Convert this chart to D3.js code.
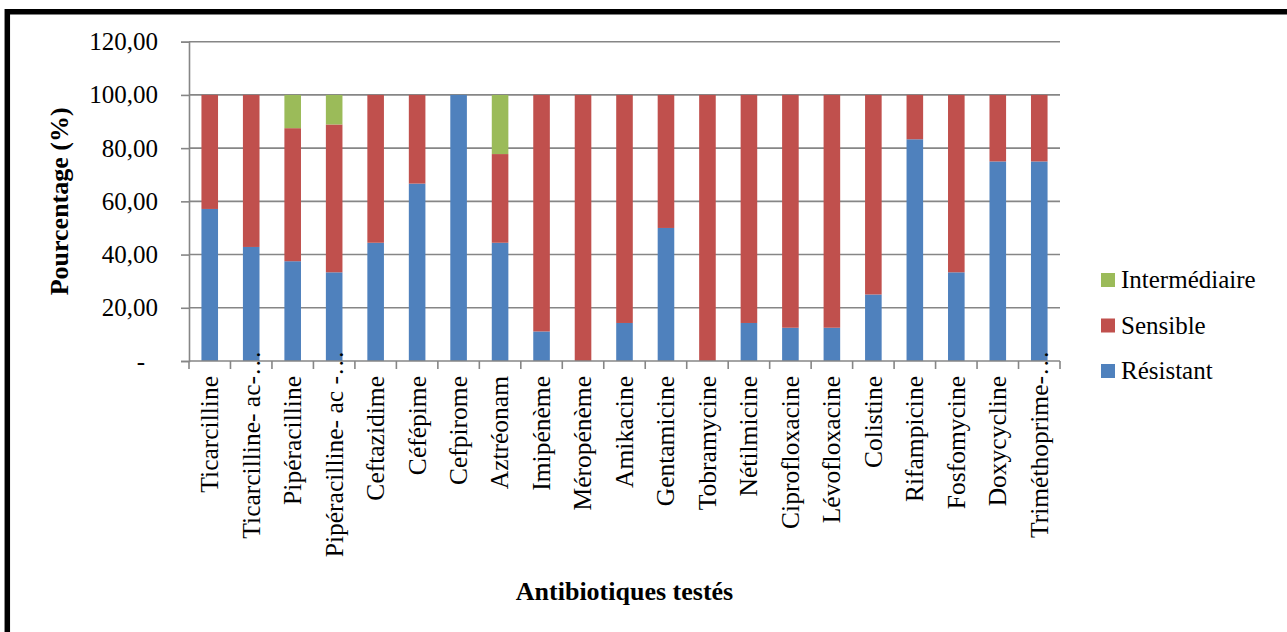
<!DOCTYPE html>
<html>
<head>
<meta charset="utf-8">
<script src="https://cdn.jsdelivr.net/npm/d3@7"></script>
<style>
  body { margin: 0; background: #fff; }
  svg text { font-family: "Liberation Serif", "Times New Roman", serif; fill: #000; }
</style>
</head>
<body>
<svg id="chart" width="1287" height="632"></svg>
<script>
// Data
const categories = ["Ticarcilline", "Ticarcilline- ac-", "Pipéracilline", "Pipéracilline- ac -",
  "Ceftazidime", "Céfépime", "Cefpirome", "Aztréonam", "Imipénème", "Méropénème", "Amikacine",
  "Gentamicine", "Tobramycine", "Nétilmicine", "Ciprofloxacine", "Lévofloxacine", "Colistine",
  "Rifampicine", "Fosfomycine", "Doxycycline", "Triméthoprime-"];
const truncated = [false, true, false, true, false, false, false, false, false, false, false,
  false, false, false, false, false, false, false, false, false, true];
const resistant = [57.14, 42.86, 37.5, 33.33, 44.44, 66.67, 100, 44.44, 11.11, 0, 14.29,
  50, 0, 14.29, 12.5, 12.5, 25, 83.33, 33.33, 75, 75];
const sensible = [42.86, 57.14, 50, 55.56, 55.56, 33.33, 0, 33.33, 88.89, 100, 85.71,
  50, 100, 85.71, 87.5, 87.5, 75, 16.67, 66.67, 25, 25];
const intermediaire = [0, 0, 12.5, 11.11, 0, 0, 0, 22.22, 0, 0, 0,
  0, 0, 0, 0, 0, 0, 0, 0, 0, 0];
const yTicks = [0, 20, 40, 60, 80, 100, 120];

const seriesKeys = ["Résistant", "Sensible", "Intermédiaire"];
const colors = { "Résistant": "#4F81BD", "Sensible": "#C0504D", "Intermédiaire": "#9BBB59" };

const rows = categories.map((c, i) => ({
  cat: c, "Résistant": resistant[i], "Sensible": sensible[i], "Intermédiaire": intermediaire[i]
}));

const serif = '"Liberation Serif", "Times New Roman", serif';
const svg = d3.select("#chart").attr("font-family", serif);
const plotLeft = 189, plotRight = 1060, plotTop = 41.7, plotBottom = 361;

const x = d3.scaleBand().domain(categories).range([plotLeft, plotRight])
  .paddingInner(0.6).paddingOuter(0.3);
const y = d3.scaleLinear().domain([0, 120]).range([plotBottom, plotTop]);

const axisColor = "#868686";

// frame (only top and left visible)
svg.append("path")
  .attr("d", `M7.3,1400 L7.3,11.8 L1400,11.8`)
  .attr("fill", "none").attr("stroke", "#000").attr("stroke-width", 5.5);

// gridlines
svg.append("g").selectAll("line").data(yTicks.filter(d => d > 0)).enter().append("line")
  .attr("x1", plotLeft).attr("x2", plotRight)
  .attr("y1", d => y(d)).attr("y2", d => y(d))
  .attr("stroke", axisColor).attr("stroke-width", 1.6);

// bars
const stacked = d3.stack().keys(seriesKeys)(rows);
svg.append("g").selectAll("g").data(stacked).enter().append("g")
  .attr("fill", d => colors[d.key])
  .selectAll("rect").data(d => d).enter().append("rect")
  .attr("x", d => x(d.data.cat))
  .attr("width", x.bandwidth())
  .attr("y", d => y(d[1]))
  .attr("height", d => y(d[0]) - y(d[1]));

// y axis
const yAxis = svg.append("g").attr("transform", `translate(${plotLeft},0)`)
  .call(d3.axisLeft(y).tickValues(yTicks).tickSize(8).tickPadding(23)
    .tickFormat(d => d === 0 ? "-" : d3.format(".2f")(d).replace(".", ",")))
  .attr("font-family", serif).attr("font-size", 25);
yAxis.select(".domain").attr("stroke", axisColor).attr("stroke-width", 1.6);
yAxis.selectAll(".tick line").attr("stroke", axisColor).attr("stroke-width", 1.6);
yAxis.selectAll(".tick text").attr("dx", d => d === 0 ? -13 : 0);

// x axis
const bandEdges = categories.map(c => x(c) - x.step() * x.paddingInner() / 2);
bandEdges.push(plotRight);
const xg = svg.append("g");
xg.append("line").attr("x1", plotLeft).attr("x2", plotRight).attr("y1", plotBottom).attr("y2", plotBottom)
  .attr("stroke", axisColor).attr("stroke-width", 1.6);
xg.selectAll("line.tk").data(bandEdges).enter().append("line").attr("class", "tk")
  .attr("x1", d => d).attr("x2", d => d).attr("y1", plotBottom).attr("y2", plotBottom + 8)
  .attr("stroke", axisColor).attr("stroke-width", 1.6);

const labels = xg.selectAll("g.lab").data(categories).enter().append("g").attr("class", "lab")
  .attr("transform", c => `translate(${x(c) + x.bandwidth() / 2},${plotBottom}) rotate(-90)`);
labels.append("text").attr("x", -15).attr("dy", "0.33em")
  .attr("text-anchor", "end").attr("font-size", 25.5).text(c => c);
labels.filter((c, i) => truncated[i]).append("text").attr("x", -15).attr("dy", "0.33em")
  .attr("text-anchor", "start").attr("font-size", 25.5).text("…");

// axis titles
svg.append("text").attr("x", (plotLeft + plotRight) / 2).attr("y", 600)
  .attr("text-anchor", "middle").attr("font-size", 26).attr("font-weight", "bold")
  .text("Antibiotiques testés");
svg.append("text").attr("transform", `translate(68,${(plotTop + plotBottom) / 2}) rotate(-90)`)
  .attr("text-anchor", "middle").attr("font-size", 26).attr("font-weight", "bold")
  .text("Pourcentage (%)");

// legend
const legendKeys = ["Intermédiaire", "Sensible", "Résistant"];
const lg = svg.append("g").selectAll("g").data(legendKeys).enter().append("g")
  .attr("transform", (d, i) => `translate(1101,${280 + i * 45.5})`);
lg.append("rect").attr("x", 0).attr("y", -7).attr("width", 14).attr("height", 14)
  .attr("fill", d => colors[d]);
lg.append("text").attr("x", 20).attr("dy", "0.33em").attr("font-size", 25).text(d => d);
</script>
</body>
</html>
